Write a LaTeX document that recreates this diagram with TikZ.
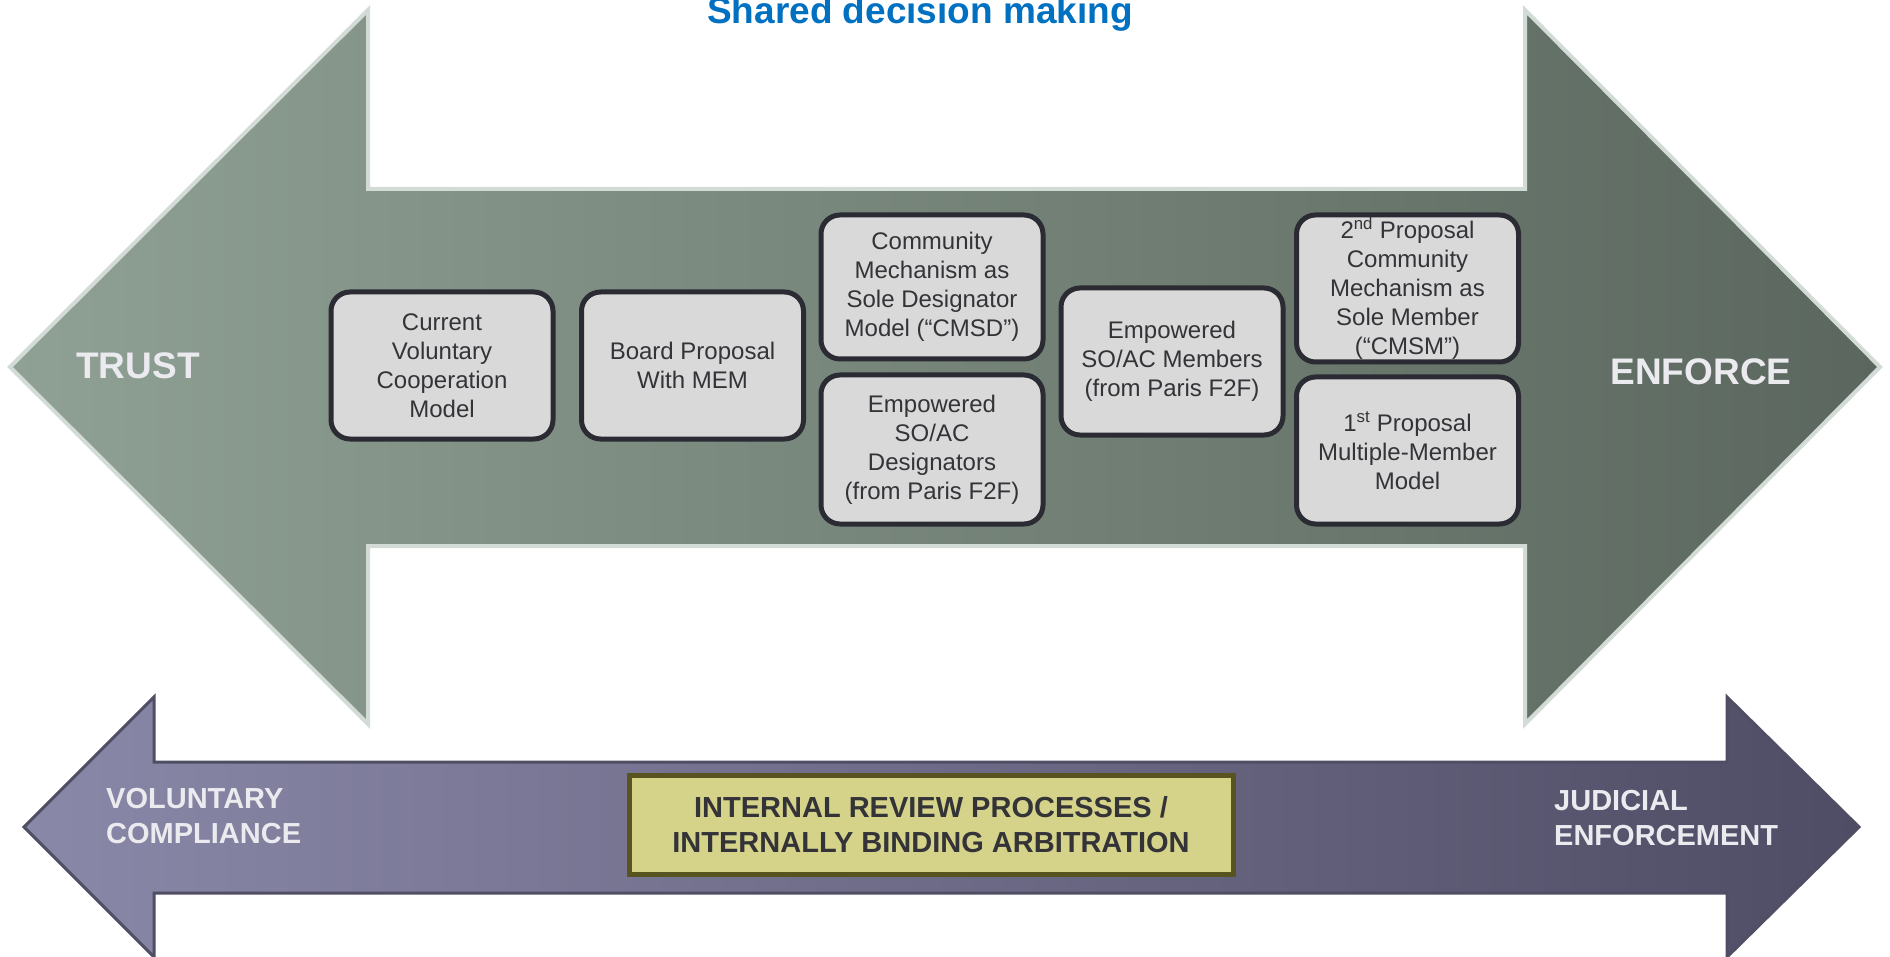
\documentclass[tikz,border=0pt]{standalone}
\usepackage{fontspec}
\setmainfont{Liberation Sans}
\definecolor{trustlight}{HTML}{8FA094}
\definecolor{trustdark}{HTML}{5B675E}
\definecolor{trustedge}{HTML}{D2DBD6}
\definecolor{lawlight}{HTML}{8A88A8}
\definecolor{lawdark}{HTML}{4F4D65}
\definecolor{lawedge}{HTML}{4F4E64}
\definecolor{boxfill}{HTML}{D9D9D9}
\definecolor{boxedge}{HTML}{2B2B33}
\definecolor{boxtext}{HTML}{333338}
\definecolor{arbfill}{HTML}{D5D38A}
\definecolor{arbedge}{HTML}{57541F}
\definecolor{titleblue}{HTML}{0070C0}
\definecolor{labeltext}{HTML}{EAEAEF}
\tikzset{
  modelbox/.style={draw=boxedge, fill=boxfill, line width=5pt, rounded corners=19pt,
    align=center, minimum width=222pt, minimum height=147pt, inner sep=0pt,
    text=boxtext, font=\fontsize{24}{29}\selectfont},
  endlabel/.style={text=labeltext, font=\bfseries\fontsize{37}{44}\selectfont},
  lawlabel/.style={text=labeltext, align=left, anchor=west, inner sep=0pt,
    font=\bfseries\fontsize{29}{35}\selectfont}
}
\begin{document}
\begin{tikzpicture}[x=1pt,y=-1pt]
      \useasboundingbox (0,0) rectangle (1890,957);
      \shadedraw[left color=trustlight, right color=trustdark, draw=trustedge, line width=4pt]
        (10,367) -- (368,10) -- (368,189) -- (1525,189) -- (1525,10) -- (1880,367)
        -- (1525,724) -- (1525,546) -- (368,546) -- (368,724) -- cycle;
      \shadedraw[left color=lawlight, right color=lawdark, draw=lawedge, line width=3pt]
        (24,827) -- (154,697) -- (154,762) -- (1727,762) -- (1727,697) -- (1859,827)
        -- (1727,957) -- (1727,893) -- (154,893) -- (154,957) -- cycle;
      \node[anchor=base, text=titleblue, font=\bfseries\fontsize{37}{44}\selectfont] (title) at (920,24) {Shared decision making};
      \node[endlabel] (trust) at (138,366) {TRUST};
      \node[endlabel] (enforce) at (1701,372) {ENFORCE};
      \node[modelbox] (current) at (442,365.5) {Current\\Voluntary\\Cooperation\\Model};
      \node[modelbox] (board) at (692.5,365.5) {Board Proposal\\With MEM};
      \node[modelbox, minimum height=144pt] (cmsd) at (932,287) {Community\\Mechanism as\\Sole Designator\\Model (“CMSD”)};
      \node[modelbox, minimum height=149pt] (soacdes) at (932,449.5) {Empowered\\SO/AC\\Designators\\(from Paris F2F)};
      \node[modelbox] (soacmem) at (1172,361.5) {Empowered\\SO/AC Members\\(from Paris F2F)};
      \node[modelbox] (cmsm) at (1407.5,288.5) {2\textsuperscript{nd} Proposal\\Community\\Mechanism as\\Sole Member\\(“CMSM”)};
      \node[modelbox] (mem) at (1407.5,450.5) {1\textsuperscript{st} Proposal\\Multiple-Member\\Model};
      \node[lawlabel] (voluntary) at (106,816) {VOLUNTARY\\COMPLIANCE};
      \node[lawlabel] (judicial) at (1554,818) {JUDICIAL\\ENFORCEMENT};
      \node[draw=arbedge, fill=arbfill, line width=5pt, minimum width=604pt, minimum height=99pt,
        align=center, text=boxtext, font=\bfseries\fontsize{29}{35}\selectfont] (arbitration) at (931,824.5)
        {INTERNAL REVIEW PROCESSES /\\INTERNALLY BINDING ARBITRATION};
    \end{tikzpicture}
\end{document}
